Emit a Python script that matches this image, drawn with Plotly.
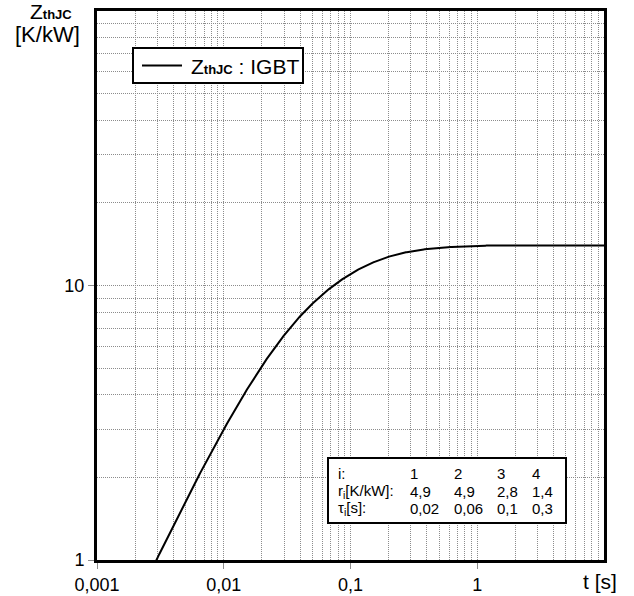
import numpy as np
import plotly.graph_objects as go

# Foster thermal model parameters (junction to case)
stage_idx = [1, 2, 3, 4]
r_i = [4.9, 4.9, 2.8, 1.4]        # K/kW
tau_i = [0.02, 0.06, 0.1, 0.3]    # s
r_labels = ["4,9", "4,9", "2,8", "1,4"]
tau_labels = ["0,02", "0,06", "0,1", "0,3"]

x_tickvals = [0.001, 0.01, 0.1, 1]
x_ticktext = ["0,001", "0,01", "0,1", "1"]
y_tickvals = [1, 10]
y_ticktext = ["1", "10"]

series_name = "Z<span style='font-size:13px'><b>thJC</b></span> : IGBT"

# transient thermal impedance from the Foster network
t = np.logspace(-3, 1, 600)
z = np.zeros_like(t)
for r, tau in zip(r_i, tau_i):
    z += r * (1.0 - np.exp(-t / tau))

W, H = 634, 596
L, R, T, B = 97, 30, 11, 36
PW, PH = W - L - R, H - T - B


def px(x):
    return (x - L) / PW


def py(y):
    return (H - B - y) / PH


FONT = "Liberation Sans, Arial, sans-serif"
GRID = "#8c8c8c"

fig = go.Figure()
fig.add_trace(go.Scatter(
    x=t, y=z, mode="lines",
    line=dict(color="black", width=2),
    name=series_name, showlegend=False,
))

axis_common = dict(
    automargin=False,
    ticks="outside", ticklen=6, tickcolor=GRID,
    showline=True, linecolor="black", linewidth=3, mirror=True,
    showgrid=True, gridcolor=GRID, griddash="1px,1px", gridwidth=1,
    minor=dict(ticks="", showgrid=True, gridcolor=GRID, griddash="1px,1px",
               gridwidth=1, dtick="D1"),
    tickfont=dict(size=18, color="black", family=FONT),
    zeroline=False,
)
fig.update_xaxes(type="log", range=[-3, 1],
                 tickvals=x_tickvals, ticktext=x_ticktext, **axis_common)
fig.update_yaxes(type="log", range=[0, 2],
                 tickvals=y_tickvals, ticktext=y_ticktext, **axis_common)

annotations = [
    dict(text="Z<span style='font-size:13px'><b>thJC</b></span>", x=px(51), y=py(11),
         font=dict(size=21)),
    dict(text="[K/kW]", x=px(47), y=py(34), font=dict(size=22)),
    dict(text="t [s]", x=px(600), y=py(581), font=dict(size=21)),
    # legend entry text
    dict(text=series_name, x=px(189), y=py(66), xanchor="left", font=dict(size=21)),
]

# parameter table
TS = 15
row_y = [473, 491, 508]
row_labels = ["i:", "r<sub>i</sub>[K/kW]:", "τ<sub>i</sub>[s]:"]
for lab, yy in zip(row_labels, row_y):
    annotations.append(dict(text=lab, x=px(336), y=py(yy), xanchor="left", font=dict(size=TS)))
col_x = [408, 452, 495, 530]
for cx, i, rl, tl in zip(col_x, stage_idx, r_labels, tau_labels):
    annotations.append(dict(text=str(i), x=px(cx), y=py(row_y[0]), xanchor="left", font=dict(size=TS)))
    annotations.append(dict(text=rl, x=px(cx), y=py(row_y[1]), xanchor="left", font=dict(size=TS)))
    annotations.append(dict(text=tl, x=px(cx), y=py(row_y[2]), xanchor="left", font=dict(size=TS)))

for a in annotations:
    a.update(xref="paper", yref="paper", showarrow=False, yanchor="middle")
    a.setdefault("xanchor", "center")
    a["font"].update(color="black", family=FONT)

shapes = [
    # parameter table frame
    dict(type="rect", x0=px(328), x1=px(566), y0=py(523), y1=py(458),
         fillcolor="white", line=dict(color="black", width=2)),
    # legend frame and line sample
    dict(type="rect", x0=px(133), x1=px(303), y0=py(83), y1=py(48),
         fillcolor="white", line=dict(color="black", width=2)),
    dict(type="line", x0=px(142), x1=px(182), y0=py(65.5), y1=py(65.5),
         line=dict(color="black", width=2)),
]
for s in shapes:
    s.update(xref="paper", yref="paper", layer="above")

fig.update_layout(
    width=W, height=H,
    margin=dict(l=L, r=R, t=T, b=B, pad=0, autoexpand=False),
    paper_bgcolor="white", plot_bgcolor="white",
    font=dict(family=FONT, color="black"),
    showlegend=False,
    annotations=annotations,
    shapes=shapes,
)

fig.write_html("out.html")
